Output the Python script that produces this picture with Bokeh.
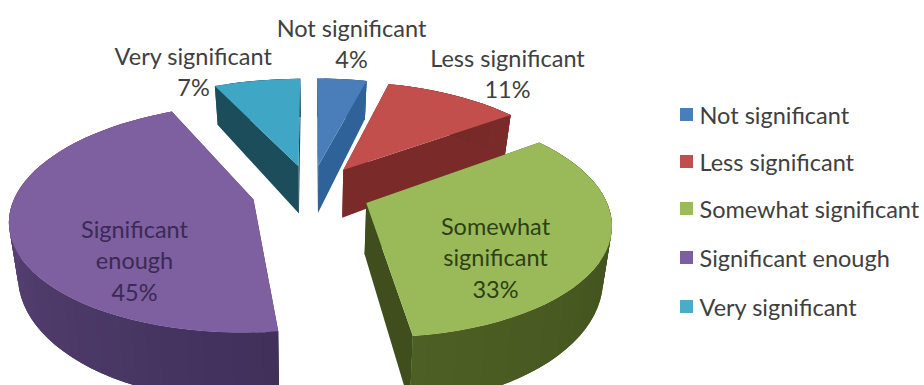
import numpy as np
from bokeh.core.properties import value
from bokeh.embed import file_html
from bokeh.models import ColumnDataSource, Range1d
from bokeh.plotting import figure
from bokeh.resources import INLINE

# Survey answers, in the order the pie runs clockwise from twelve o'clock
categories = ["Not significant", "Less significant", "Somewhat significant",
              "Significant enough", "Very significant"]
shares = [4, 11, 33, 45, 7]

# Colours per category: top face, then wall colour at start and end of the arc
top_colors = ["#4a7ebb", "#c24f4c", "#9aba59", "#7e5fa0", "#3fa6c5"]
wall_start = ["#2f6299", "#702725", "#3c4a1a", "#40305a", "#1c4d5b"]
wall_end = ["#2f6299", "#7a2b29", "#4d5f24", "#6a4f89", "#1c4d5b"]
radial_colors = ["#2f6299", "#7a2b29", "#3f4e1c", "#40305a", "#1c4d5b"]
legend_colors = ["#4a7ebb", "#c0504d", "#9bbb59", "#7d5ea0", "#4bacc6"]

# Projection of the tilted pie onto the page
CX, CY = 310.5, 191.4
SCALE_X, SCALE_Y = 237.0, 109.0
PERSPECTIVE = 0.16
EXPLODE = 0.25
DEPTH = 50.0
DEPTH_PERSPECTIVE = 0.25
BOTTOM_SHRINK = 0.97
PAGE_W, PAGE_H = 924, 385


def project(x, y, bottom=False):
    """Map pie-plane coordinates (radius 1, y away from viewer) to page pixels."""
    x, y = np.asarray(x, float), np.asarray(y, float)
    w = 1 + PERSPECTIVE * y
    sx = SCALE_X * x / w
    sy = CY - SCALE_Y * y / w
    if bottom:
        sx = sx * BOTTOM_SHRINK
        sy = sy + DEPTH / (1 + DEPTH_PERSPECTIVE * y)
    return CX + sx, sy


def lerp_hex(a, b, t):
    ca = np.array([int(a[i:i + 2], 16) for i in (1, 3, 5)], float)
    cb = np.array([int(b[i:i + 2], 16) for i in (1, 3, 5)], float)
    c = np.round(ca + (cb - ca) * t).astype(int)
    return "#%02x%02x%02x" % tuple(c)


p = figure(width=PAGE_W, height=PAGE_H, output_backend="svg", toolbar_location=None,
           x_range=Range1d(0, PAGE_W), y_range=Range1d(PAGE_H, 0),
           x_axis_location=None, y_axis_location=None, min_border=0,
           outline_line_color=None, background_fill_color="white",
           border_fill_color="white")
p.grid.visible = False

fractions = np.array(shares, float) / sum(shares)
edges = np.concatenate([[0], np.cumsum(fractions)]) * 2 * np.pi

# Back slices are painted first so the nearer ones overlap them
paint_order = [4, 0, 1, 3, 2]
for i in paint_order:
    a0, a1 = edges[i], edges[i + 1]
    mid = (a0 + a1) / 2
    ox, oy = EXPLODE * np.sin(mid), EXPLODE * np.cos(mid)
    theta = np.linspace(a0, a1, max(8, int(np.degrees(a1 - a0) / 3)))
    rim_x, rim_y = ox + np.sin(theta), oy + np.cos(theta)

    xs, ys, colors = [], [], []
    # Flat radial walls
    for ang in (a0, a1):
        ex, ey = ox + np.sin(ang), oy + np.cos(ang)
        tx, ty = project([ox, ex], [oy, ey])
        bx, by = project([ox, ex], [oy, ey], bottom=True)
        xs.append(list(tx) + list(bx[::-1]))
        ys.append(list(ty) + list(by[::-1]))
        colors.append(radial_colors[i])
    # Curved outer wall; each strip runs under the next one so no seams show
    for k in range(len(theta) - 1):
        seg = slice(k, min(k + 3, len(theta)))
        tx, ty = project(rim_x[seg], rim_y[seg])
        bx, by = project(rim_x[seg], rim_y[seg], bottom=True)
        xs.append(list(tx) + list(bx[::-1]))
        ys.append(list(ty) + list(by[::-1]))
        colors.append(lerp_hex(wall_start[i], wall_end[i], k / (len(theta) - 2)))
    p.patches(xs="xs", ys="ys", fill_color="color", line_color=None,
              source=ColumnDataSource(dict(xs=xs, ys=ys, color=colors)))

    # Top face
    top_x, top_y = project(np.concatenate([[ox], rim_x]), np.concatenate([[oy], rim_y]))
    p.patch(list(top_x), list(top_y), fill_color=top_colors[i], line_color=None)

# Data labels: wrapped name and percentage, dark ones sit on their own slice
label_lines = [
    (["Not significant"], 351, 27, "#404040"),
    (["Less significant"], 507, 57, "#404040"),
    (["Somewhat", "significant"], 495, 225, "#2f3f14"),
    (["Significant", "enough"], 134, 228, "#3a2a55"),
    (["Very significant"], 193, 55, "#404040"),
]
LINE_STEP = 31.5
tx, ty, tt, tc = [], [], [], []
for (lines, x, y, color), share in zip(label_lines, shares):
    for n, text in enumerate(lines + [f"{share}%"]):
        tx.append(x)
        ty.append(y + n * LINE_STEP)
        tt.append(text)
        tc.append(color)
p.text(x="x", y="y", text="text", text_color="color", text_font=value("Lato"),
       text_font_size="23.5px", text_align="center", text_baseline="middle",
       source=ColumnDataSource(dict(x=tx, y=ty, text=tt, color=tc)))

# Legend column
legend_y = [114, 161, 208, 257, 306]
p.rect(x=[686] * 5, y=legend_y, width=13, height=13, fill_color=legend_colors,
       line_color=None)
p.text(x=[699] * 5, y=legend_y, text=categories, text_color="#404040",
       text_font=value("Lato"), text_font_size="23.5px", text_align="left",
       text_baseline="middle")

open("out.html", "w").write(file_html(p, INLINE))
